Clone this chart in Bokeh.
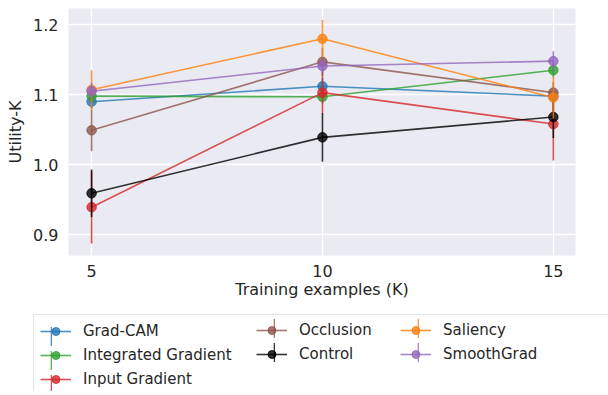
from bokeh.plotting import figure
from bokeh.layouts import column
from bokeh.models import Range1d, FixedTicker, Legend, LegendItem, ColumnDataSource, PrintfTickFormatter
from bokeh.embed import file_html
from bokeh.resources import INLINE

# ---- data ----
training_k = [5, 10, 15]
x_ticks = [5, 10, 15]
y_ticks = [0.9, 1.0, 1.1, 1.2]

method_names = ["Grad-CAM", "Integrated Gradient", "Input Gradient",
                "Occlusion", "Control", "Saliency", "SmoothGrad"]
method_colors = ["#1f77b4", "#2ca02c", "#d62728", "#8c564b", "#000000", "#ff7f0e", "#9467bd"]

grad_cam_mean = [1.090, 1.112, 1.098]
grad_cam_err = [0.010, 0.012, 0.010]
integrated_gradient_mean = [1.098, 1.097, 1.135]
integrated_gradient_err = [0.008, 0.010, 0.010]
input_gradient_mean = [0.939, 1.103, 1.058]
input_gradient_err = [0.052, 0.030, 0.052]
occlusion_mean = [1.049, 1.147, 1.103]
occlusion_err = [0.030, 0.020, 0.015]
control_mean = [0.959, 1.039, 1.068]
control_err = [0.034, 0.035, 0.030]
saliency_mean = [1.107, 1.180, 1.096]
saliency_err = [0.028, 0.027, 0.030]
smoothgrad_mean = [1.105, 1.141, 1.148]
smoothgrad_err = [0.012, 0.010, 0.014]

means = [grad_cam_mean, integrated_gradient_mean, input_gradient_mean,
         occlusion_mean, control_mean, saliency_mean, smoothgrad_mean]
errs = [grad_cam_err, integrated_gradient_err, input_gradient_err,
        occlusion_err, control_err, saliency_err, smoothgrad_err]

legend_columns = [["Grad-CAM", "Integrated Gradient", "Input Gradient"],
                  ["Occlusion", "Control"],
                  ["Saliency", "SmoothGrad"]]

TEXT = "#262626"
FONT = "DejaVu Sans"
ALPHA = 0.8

# ---- main plot ----
p = figure(width=608, height=305, output_backend="svg", toolbar_location=None,
           x_range=Range1d(4.5, 15.48), y_range=Range1d(0.870, 1.2233),
           min_border_left=68, min_border_right=33, min_border_top=8, min_border_bottom=50,
           background_fill_color="#EAEAF2", border_fill_color="white")
p.frame_align = False
p.outline_line_color = None
p.grid.grid_line_color = "white"
p.grid.grid_line_width = 1.3

p.xaxis.ticker = FixedTicker(ticks=x_ticks)
p.yaxis.ticker = FixedTicker(ticks=y_ticks)
p.yaxis.formatter = PrintfTickFormatter(format="%.1f")
for ax in (p.xaxis, p.yaxis):
    ax.axis_line_color = None
    ax.major_tick_line_color = None
    ax.minor_tick_line_color = None
    ax.major_tick_out = 0
    ax.major_tick_in = 0
    ax.major_label_text_font = FONT
    ax.major_label_text_font_size = "16px"
    ax.major_label_text_color = TEXT
    ax.axis_label_text_font = FONT
    ax.axis_label_text_font_size = "16px"
    ax.axis_label_text_color = TEXT
    ax.axis_label_text_font_style = "normal"
p.xaxis.axis_label = "Training examples (K)"
p.yaxis.axis_label = "Utility-K"
p.xaxis.major_label_standoff = 9
p.xaxis.axis_label_standoff = 0
p.yaxis.major_label_standoff = 10
p.yaxis.axis_label_standoff = 5

# ---- legend strip (legend-only figure; its ranges keep the data out of view) ----
q = figure(width=608, height=86, output_backend="svg", toolbar_location=None,
           x_range=Range1d(100, 101), y_range=Range1d(100, 101),
           x_axis_location=None, y_axis_location=None,
           min_border=0, min_border_left=0, min_border_right=0,
           min_border_top=0, min_border_bottom=0,
           background_fill_color="white", border_fill_color="white")
q.frame_align = False
q.outline_line_color = None
q.grid.visible = False

entry_items = {}
tick_items = {}
for name, color, m, e in zip(method_names, method_colors, means, errs):
    src = ColumnDataSource(dict(x=training_k, y=m,
                                lo=[a - b for a, b in zip(m, e)],
                                hi=[a + b for a, b in zip(m, e)]))
    p.segment(x0="x", y0="lo", x1="x", y1="hi", source=src,
              line_color=color, line_alpha=ALPHA, line_width=1.6)
    p.line("x", "y", source=src, line_color=color, line_alpha=ALPHA, line_width=1.6)
    p.scatter("x", "y", source=src, size=9.5, fill_color=color, fill_alpha=ALPHA,
              line_color=color, line_alpha=ALPHA)
    lr = q.line("x", "y", source=src, line_color=color, line_alpha=ALPHA, line_width=1.6)
    sr = q.scatter("x", "y", source=src, size=8, fill_color=color, fill_alpha=ALPHA,
                   line_color=color, line_alpha=ALPHA)
    vr = q.vbar(x="x", bottom="lo", top="hi", width=0.01, source=src,
                fill_color=color, fill_alpha=ALPHA, line_color=None)
    entry_items[name] = LegendItem(label=name, renderers=[lr, sr])
    tick_items[name] = LegendItem(label="", renderers=[vr])

FRAME_H = 86
LEG_TOP = 9
col_left = [33, 256, 400]
col_dy = [-2, 6, 6]
tick_centers = [54.5, 277.5, 421.5]
for i, names in enumerate(legend_columns):
    n = len(names)
    h = 12 + 20 * n + 4 * (n - 1)
    leg = Legend(items=[entry_items[k] for k in names],
                 location=(col_left[i], FRAME_H - LEG_TOP - h + col_dy[i]),
                 orientation="vertical", padding=6, spacing=4, glyph_width=31, glyph_height=20,
                 label_standoff=12, label_text_font=FONT, label_text_font_size="15px",
                 label_text_color=TEXT, label_height=17, margin=0)
    if i == 0:
        leg.label_width = 560
        leg.border_line_color = "#cccccc"
        leg.border_line_width = 1
        leg.background_fill_color = "white"
        leg.background_fill_alpha = 1.0
    else:
        leg.border_line_color = None
        leg.background_fill_alpha = 0.0
    q.add_layout(leg, "center")
    th = 8 + 24 * n
    tleg = Legend(items=[tick_items[k] for k in names],
                  location=(tick_centers[i] - 5, FRAME_H - LEG_TOP - th + col_dy[i]),
                  orientation="vertical", padding=4, spacing=0, glyph_width=2, glyph_height=24,
                  label_standoff=0, label_width=0, label_height=10,
                  label_text_font_size="1px", margin=0,
                  border_line_color=None, background_fill_alpha=0.0)
    q.add_layout(tleg, "center")

layout = column(p, q, spacing=0)
open("out.html", "w").write(file_html(layout, INLINE))
